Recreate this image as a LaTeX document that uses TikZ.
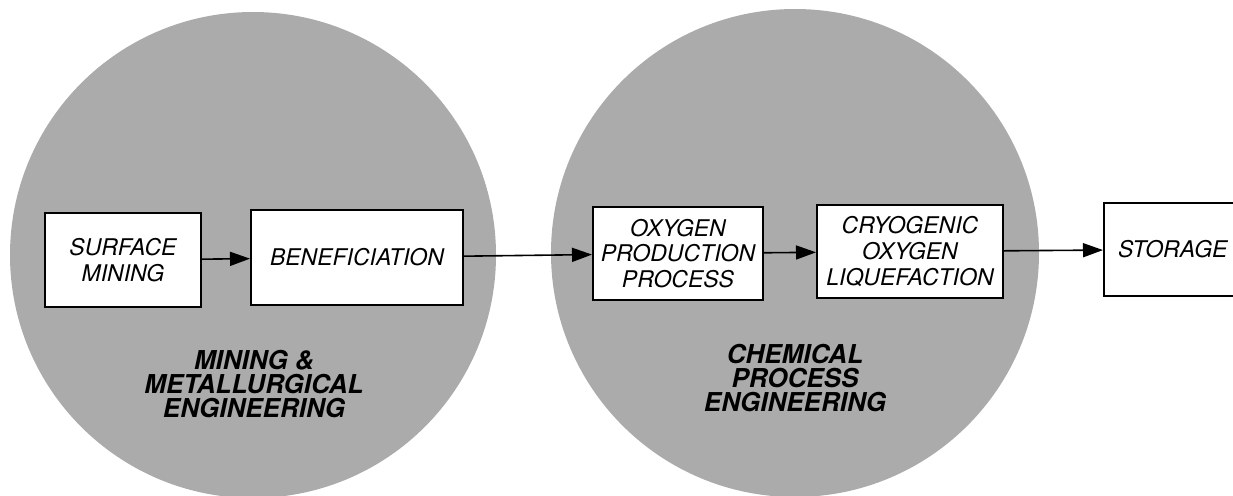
\documentclass[tikz,border=0pt]{standalone}
\usepackage{fontspec}
\setmainfont{TeX Gyre Heros}
\usetikzlibrary{arrows.meta}
\definecolor{fieldgray}{HTML}{ABABAB}

\tikzset{
  stepbox/.style={draw, line width=1pt, fill=white, align=center, inner sep=2pt,
    font=\fontsize{11.5}{12.8}\selectfont\itshape},
  fieldlabel/.style={align=center, font=\fontsize{13}{12}\selectfont\bfseries\itshape},
  flow/.style={line width=0.8pt, -{Triangle[length=10pt, width=7pt]}}
}

\begin{document}
\begin{tikzpicture}[x=0.5pt, y=-0.5pt]
\clip (0,0) rectangle (1233,495);
\fill[white] (0,0) rectangle (1233,495);

% Fields of engineering
\fill[fieldgray] (253,255) circle [radius=121.5pt];
\fill[fieldgray] (795,253) circle [radius=122pt];
\node[fieldlabel] (mining) at (254,384) {MINING \&\\METALLURGICAL\\ENGINEERING};
\node[fieldlabel] (chemical) at (795,378) {CHEMICAL\\PROCESS\\ENGINEERING};

% Process steps
\node[stepbox, minimum width=78pt, minimum height=47pt] (surface) at (123,260) {SURFACE\\MINING};
\node[stepbox, minimum width=106pt, minimum height=47.5pt] (benef) at (357,257.5) {BENEFICIATION};
\node[stepbox, minimum width=85pt, minimum height=46.5pt] (oxyprod) at (678,253.5) {OXYGEN\\PRODUCTION\\PROCESS};
\node[stepbox, minimum width=93pt, minimum height=46.5pt] (liquef) at (910,251.5) {CRYOGENIC\\OXYGEN\\LIQUEFACTION};
\node[stepbox, anchor=west, minimum width=75pt, minimum height=46.5pt, inner xsep=7pt,
  text width=61pt, align=left] (storage) at (1103,249.5) {STORAGE};

% Flow
\draw[flow] (surface) -- (benef);
\draw[flow] (benef) -- (oxyprod);
\draw[flow] (oxyprod) -- (liquef);
\draw[flow] (liquef) -- (storage);
\end{tikzpicture}
\end{document}
